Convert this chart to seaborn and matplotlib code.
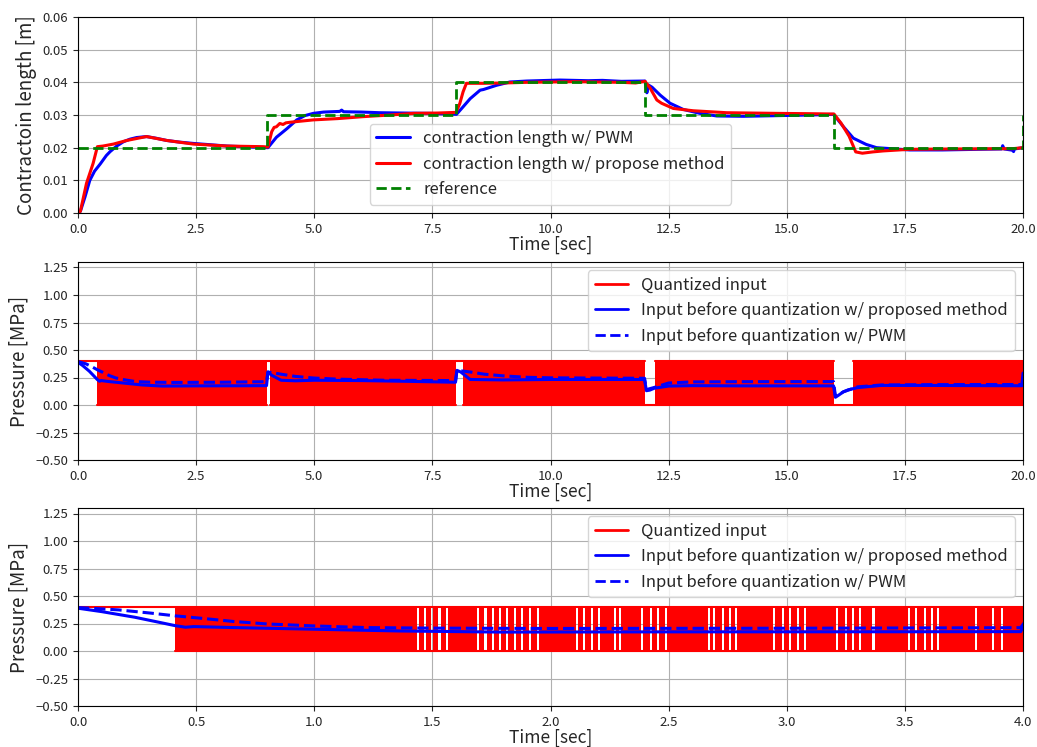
import numpy as np
import pandas as pd
import matplotlib
matplotlib.use("Agg")
import matplotlib.pyplot as plt
from matplotlib.lines import Line2D
import seaborn as sns

# ---------------- data ----------------
# reference trajectory (step)
T_REF = [0, 4, 8, 12, 16, 20]
L_REF = [0.02, 0.03, 0.04, 0.03, 0.02, 0.03]

# contraction length w/ PWM
T_LEN_PWM = [0.0, 0.05, 0.15, 0.25, 0.35, 0.47, 0.6, 0.68, 0.82, 0.96, 1.1, 1.24, 1.45, 1.65,
             1.88, 2.15, 2.44, 2.8, 3.15, 3.5, 3.85, 4.02, 4.2, 4.42, 4.63, 4.8, 4.98, 5.2,
             5.54, 5.58, 5.62, 6.0, 6.39, 6.9, 7.45, 8.01, 8.15, 8.3, 8.51, 8.58, 8.86, 9.14,
             9.5, 10.2, 10.8, 11.1, 11.5, 12.0, 12.04, 12.07, 12.15, 12.32, 12.53, 12.81,
             13.16, 13.52, 14.08, 14.79, 15.5, 15.99, 16.2, 16.41, 16.68, 16.9, 17.6, 18.3,
             19.07, 19.55, 19.57, 19.6, 19.79, 19.8, 19.82, 20.0]
L_LEN_PWM = [0.0, 0.0005, 0.005, 0.0100, 0.0128, 0.0150, 0.0176, 0.0188, 0.0205, 0.0218,
             0.0226, 0.0231, 0.0234, 0.0229, 0.0222, 0.0217, 0.0213, 0.0209, 0.0205, 0.0203,
             0.0201, 0.0200, 0.0232, 0.0258, 0.0285, 0.0298, 0.0305, 0.0309, 0.0311, 0.0315,
             0.0310, 0.0309, 0.0307, 0.0306, 0.0305, 0.0302, 0.0325, 0.0350, 0.0376, 0.0378,
             0.0391, 0.0401, 0.0404, 0.0407, 0.0405, 0.0406, 0.0403, 0.0404, 0.0368, 0.0392,
             0.0385, 0.0361, 0.0336, 0.0317, 0.0305, 0.0297, 0.0296, 0.0298, 0.0300, 0.0302,
             0.0264, 0.0229, 0.0210, 0.0200, 0.0193, 0.0193, 0.0195, 0.0196, 0.0206, 0.0196,
             0.0192, 0.0188, 0.0196, 0.0200]

# contraction length w/ proposed method
T_LEN_PROP = [0.0, 0.05, 0.18, 0.32, 0.41, 0.53, 0.75, 1.03, 1.45, 1.88, 2.44, 3.15, 3.92,
              4.02, 4.1, 4.15, 4.2, 4.27, 4.34, 4.4, 4.5, 4.98, 5.5, 6.04, 6.5, 7.1, 7.6,
              8.0, 8.08, 8.15, 8.22, 8.6, 9.0, 9.5, 10.5, 11.5, 11.8, 12.0, 12.11, 12.25,
              12.35, 12.6, 13.02, 13.73, 14.79, 15.5, 16.0, 16.15, 16.32, 16.46, 16.6, 16.82,
              17.04, 17.6, 18.5, 19.79, 20.0]
L_LEN_PROP = [0.0, 0.0005, 0.0091, 0.0152, 0.0203, 0.0205, 0.0211, 0.0222, 0.0234, 0.0222,
              0.0211, 0.0205, 0.0203, 0.0202, 0.0249, 0.0262, 0.0264, 0.0274, 0.0271, 0.0276,
              0.0278, 0.0285, 0.0289, 0.0295, 0.0299, 0.0305, 0.0306, 0.0308, 0.0335, 0.0371,
              0.0397, 0.0397, 0.0398, 0.0400, 0.0402, 0.0400, 0.0398, 0.0403, 0.0382, 0.0346,
              0.0336, 0.0320, 0.0313, 0.0307, 0.0305, 0.0304, 0.0303, 0.0275, 0.0235, 0.0187,
              0.0183, 0.0187, 0.0190, 0.0195, 0.0196, 0.0197, 0.0200]

# input before quantization w/ proposed method [MPa]
T_P_PROP = [0.0, 0.1, 0.24, 0.35, 0.41, 0.455, 0.49, 0.66, 1.0, 1.36, 1.79, 2.5, 3.5, 3.99,
            4.02, 4.1, 4.3, 4.6, 5.0, 6.0, 7.0, 7.99, 8.02, 8.1, 8.3, 9.0, 10.0, 11.0, 11.99,
            12.03, 12.1, 12.2, 12.5, 13.0, 14.0, 15.0, 15.99, 16.03, 16.1, 16.2, 16.3, 16.5,
            17.0, 18.0, 19.0, 19.98, 20.0]
P_PROP = [0.389, 0.358, 0.307, 0.258, 0.231, 0.216, 0.222, 0.213, 0.198, 0.182, 0.172, 0.174,
          0.175, 0.176, 0.300, 0.270, 0.225, 0.220, 0.225, 0.222, 0.215, 0.207, 0.315, 0.300,
          0.232, 0.228, 0.232, 0.232, 0.232, 0.130, 0.135, 0.153, 0.172, 0.176, 0.174, 0.174,
          0.174, 0.070, 0.090, 0.120, 0.138, 0.158, 0.178, 0.178, 0.176, 0.175, 0.290]

# input before quantization w/ PWM [MPa]
T_P_PWM = [0.0, 0.17, 0.31, 0.41, 0.52, 0.66, 0.8, 1.0, 1.22, 1.5, 2.0, 3.0, 3.99, 4.02, 4.3,
           4.6, 5.0, 5.5, 6.5, 7.99, 8.02, 8.3, 8.6, 9.0, 9.5, 10.0, 11.0, 11.99, 12.03, 12.2,
           12.5, 13.0, 14.0, 15.99, 16.03, 16.2, 16.5, 17.0, 18.0, 19.0, 19.98, 20.0]
P_PWM = [0.395, 0.374, 0.344, 0.320, 0.298, 0.268, 0.246, 0.228, 0.213, 0.208, 0.205, 0.207,
         0.212, 0.300, 0.280, 0.260, 0.245, 0.235, 0.225, 0.222, 0.315, 0.300, 0.280, 0.265,
         0.252, 0.247, 0.245, 0.243, 0.140, 0.160, 0.200, 0.210, 0.212, 0.213, 0.080, 0.120,
         0.165, 0.182, 0.185, 0.186, 0.186, 0.290]

# quantized input: levels, rapidly switching intervals, and constant (held) intervals
Q_LOW, Q_HIGH = 0.0, 0.4
Q_SWITCHING = [(0.41, 4.0), (4.06, 7.99), (8.15, 12.01), (12.21, 16.01), (16.41, 20.0)]
Q_HOLD = [(0.0, 0.41, 0.4), (4.0, 4.06, 0.4), (7.99, 8.15, 0.4), (12.01, 12.21, 0.0),
          (16.01, 16.41, 0.0)]
# instants (0-4 s) where the quantized input pauses its switching (white gaps)
Q_GAPS = [1.441, 1.469, 1.500, 1.530, 1.561,
          1.694, 1.725, 1.755, 1.786, 1.815, 1.848, 1.881, 1.913, 1.946,
          2.113, 2.142, 2.175, 2.207, 2.272, 2.294,
          2.388, 2.425, 2.454, 2.490,
          2.671, 2.693, 2.729, 2.758, 2.787,
          2.946, 2.983, 3.012, 3.048, 3.077,
          3.214, 3.251, 3.280, 3.309, 3.367,
          3.519, 3.548, 3.584, 3.613, 3.642,
          3.801, 3.874, 3.910]

# ---------------- style ----------------
sns.set_style("ticks")
plt.rcParams["font.family"] = ["Noto Sans CJK JP", "DejaVu Sans"]
plt.rcParams["axes.unicode_minus"] = True

W, H = 1037, 747
fig = plt.figure(figsize=(W / 100, H / 100), dpi=100)


def box(l, t, r, b):
    return [l / W, 1 - b / H, (r - l) / W, (b - t) / H]


ax1 = fig.add_axes(box(78, 17, 1023, 213))
ax2 = fig.add_axes(box(78, 262, 1023, 460))
ax3 = fig.add_axes(box(78, 508, 1023, 706))

TICK_FS = 9.5
LAB_FS = 12.5
LEG_FS = 12


def style_axis(ax):
    ax.grid(True, color="#b0b0b0", lw=0.8)
    ax.set_axisbelow(True)
    for s in ax.spines.values():
        s.set_color("black")
        s.set_linewidth(0.8)
        s.set_visible(True)
    ax.tick_params(labelsize=TICK_FS, direction="out", length=3.5, width=0.8)
    ax.set_xlabel("Time [sec]", fontsize=LAB_FS, labelpad=0)


# ---------------- panel 1 ----------------
ref_df = pd.DataFrame({"t": T_REF, "l": L_REF})
sns.lineplot(x=T_LEN_PWM, y=L_LEN_PWM, ax=ax1, color="blue", lw=2.2, estimator=None,
             sort=False, label="contraction length w/ PWM")
sns.lineplot(x=T_LEN_PROP, y=L_LEN_PROP, ax=ax1, color="red", lw=2.2, estimator=None,
             sort=False, label="contraction length w/ propose method")
sns.lineplot(data=ref_df, x="t", y="l", ax=ax1, color="green", lw=2, linestyle="--",
             drawstyle="steps-post", estimator=None, sort=False, label="reference")
ax1.set_xlim(0, 20)
ax1.set_ylim(0, 0.06)
ax1.set_xticks(np.arange(0, 20.01, 2.5))
ax1.set_yticks(np.arange(0, 0.0601, 0.01))
ax1.set_xticklabels([f"{v:.1f}" for v in np.arange(0, 20.01, 2.5)])
ax1.set_yticklabels([f"{v:.2f}" for v in np.arange(0, 0.0601, 0.01)])
style_axis(ax1)
ax1.set_ylabel("Contractoin length [m]", fontsize=LAB_FS + 1, labelpad=4)
ax1.legend(loc="lower center", fontsize=LEG_FS, handlelength=2.0, borderaxespad=0.5)


# ---------------- pressure panels ----------------
def draw_quantized(ax, x_max, gaps):
    gap_w = 0.009
    for (a, b) in Q_SWITCHING:
        if a >= x_max:
            continue
        b = min(b, x_max)
        edges = [a]
        for g in gaps:
            if a < g < b:
                edges += [g - gap_w / 2, g + gap_w / 2]
        edges.append(b)
        for i in range(0, len(edges), 2):
            ax.fill_between([edges[i], edges[i + 1]], Q_LOW, Q_HIGH, color="red", lw=0)
        sns.lineplot(x=[a, b], y=[Q_HIGH, Q_HIGH], ax=ax, color="red", lw=1.5, estimator=None)
        sns.lineplot(x=[a, b], y=[Q_LOW, Q_LOW], ax=ax, color="red", lw=1.5, estimator=None)
    for (a, b, v) in Q_HOLD:
        if a >= x_max:
            continue
        sns.lineplot(x=[a, min(b, x_max)], y=[v, v], ax=ax, color="red", lw=1.5,
                     estimator=None)


def pressure_panel(ax, x_max, xstep, gaps):
    draw_quantized(ax, x_max, gaps)
    sns.lineplot(x=T_P_PROP, y=P_PROP, ax=ax, color="blue", lw=2.2, estimator=None, sort=False)
    sns.lineplot(x=T_P_PWM, y=P_PWM, ax=ax, color="blue", lw=2.2, linestyle="--",
                 estimator=None, sort=False)
    ax.set_xlim(0, x_max)
    ax.set_ylim(-0.5, 1.3)
    xt = np.arange(0, x_max + 1e-9, xstep)
    ax.set_xticks(xt)
    ax.set_xticklabels([f"{v:.1f}" for v in xt])
    yt = np.arange(-0.5, 1.2501, 0.25)
    ax.set_yticks(yt)
    ax.set_yticklabels([f"{v:.2f}".replace("-", "\u2212") for v in yt])
    style_axis(ax)
    ax.set_ylabel("Pressure [MPa]", fontsize=LAB_FS + 1, labelpad=4)
    handles = [Line2D([], [], color="red", lw=2),
               Line2D([], [], color="blue", lw=2),
               Line2D([], [], color="blue", lw=2, linestyle="--")]
    labels = ["Quantized input", "Input before quantization w/ proposed method",
              "Input before quantization w/ PWM"]
    ax.legend(handles, labels, loc="upper right", fontsize=LEG_FS, handlelength=2.0,
              borderaxespad=0.5)


pressure_panel(ax2, 20, 2.5, [])
pressure_panel(ax3, 4, 0.5, Q_GAPS)

fig.savefig("out.png", dpi=100)
